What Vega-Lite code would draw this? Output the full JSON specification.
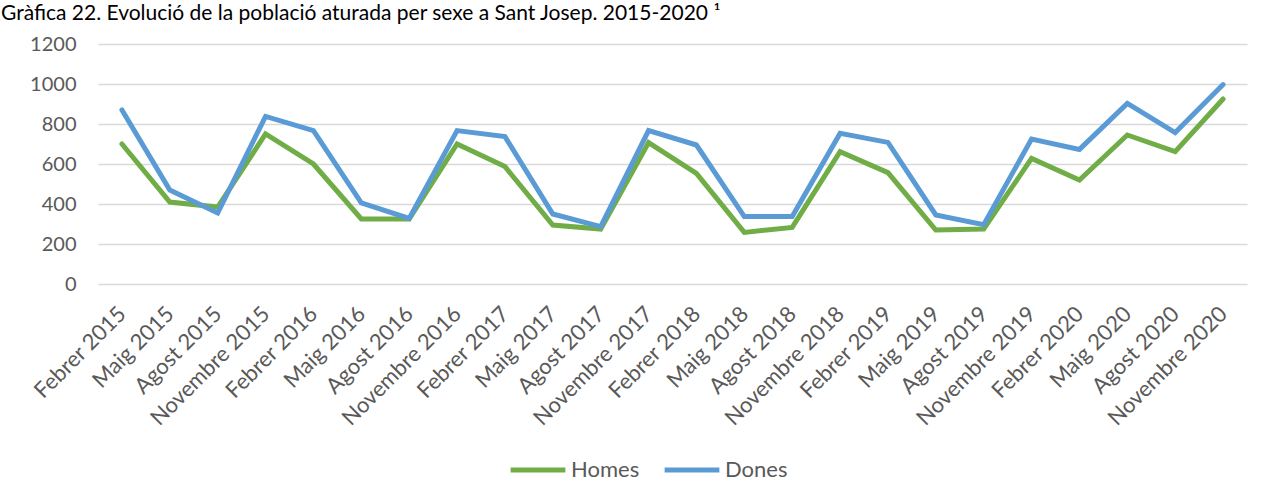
{
  "$schema": "https://vega.github.io/schema/vega-lite/v6.json",
  "autosize": {"type": "none"},
  "padding": {"left": 98, "top": 44, "right": 22, "bottom": 220},
  "width": 1149,
  "height": 240,
  "background": "white",
  "title": {
    "text": "Gràfica 22. Evolució de la població aturada per sexe a Sant Josep. 2015-2020 ¹",
    "anchor": "start",
    "frame": "group",
    "dx": -97,
    "dy": -6,
    "fontSize": 21,
    "font": "Lato",
    "fontWeight": "normal",
    "color": "#000000"
  },
  "data": {
    "values": [
      {"periode": "Febrer 2015", "sexe": "Homes", "aturats": 700},
      {"periode": "Maig 2015", "sexe": "Homes", "aturats": 410},
      {"periode": "Agost 2015", "sexe": "Homes", "aturats": 385},
      {"periode": "Novembre 2015", "sexe": "Homes", "aturats": 750},
      {"periode": "Febrer 2016", "sexe": "Homes", "aturats": 600},
      {"periode": "Maig 2016", "sexe": "Homes", "aturats": 325},
      {"periode": "Agost 2016", "sexe": "Homes", "aturats": 325},
      {"periode": "Novembre 2016", "sexe": "Homes", "aturats": 700},
      {"periode": "Febrer 2017", "sexe": "Homes", "aturats": 587},
      {"periode": "Maig 2017", "sexe": "Homes", "aturats": 295},
      {"periode": "Agost 2017", "sexe": "Homes", "aturats": 275},
      {"periode": "Novembre 2017", "sexe": "Homes", "aturats": 707},
      {"periode": "Febrer 2018", "sexe": "Homes", "aturats": 553},
      {"periode": "Maig 2018", "sexe": "Homes", "aturats": 258},
      {"periode": "Agost 2018", "sexe": "Homes", "aturats": 283},
      {"periode": "Novembre 2018", "sexe": "Homes", "aturats": 662},
      {"periode": "Febrer 2019", "sexe": "Homes", "aturats": 557},
      {"periode": "Maig 2019", "sexe": "Homes", "aturats": 270},
      {"periode": "Agost 2019", "sexe": "Homes", "aturats": 275},
      {"periode": "Novembre 2019", "sexe": "Homes", "aturats": 628},
      {"periode": "Febrer 2020", "sexe": "Homes", "aturats": 520},
      {"periode": "Maig 2020", "sexe": "Homes", "aturats": 745},
      {"periode": "Agost 2020", "sexe": "Homes", "aturats": 662},
      {"periode": "Novembre 2020", "sexe": "Homes", "aturats": 925},
      {"periode": "Febrer 2015", "sexe": "Dones", "aturats": 870},
      {"periode": "Maig 2015", "sexe": "Dones", "aturats": 470},
      {"periode": "Agost 2015", "sexe": "Dones", "aturats": 355},
      {"periode": "Novembre 2015", "sexe": "Dones", "aturats": 838},
      {"periode": "Febrer 2016", "sexe": "Dones", "aturats": 767},
      {"periode": "Maig 2016", "sexe": "Dones", "aturats": 405},
      {"periode": "Agost 2016", "sexe": "Dones", "aturats": 328},
      {"periode": "Novembre 2016", "sexe": "Dones", "aturats": 767},
      {"periode": "Febrer 2017", "sexe": "Dones", "aturats": 737},
      {"periode": "Maig 2017", "sexe": "Dones", "aturats": 350},
      {"periode": "Agost 2017", "sexe": "Dones", "aturats": 287},
      {"periode": "Novembre 2017", "sexe": "Dones", "aturats": 767},
      {"periode": "Febrer 2018", "sexe": "Dones", "aturats": 695},
      {"periode": "Maig 2018", "sexe": "Dones", "aturats": 337},
      {"periode": "Agost 2018", "sexe": "Dones", "aturats": 337},
      {"periode": "Novembre 2018", "sexe": "Dones", "aturats": 753},
      {"periode": "Febrer 2019", "sexe": "Dones", "aturats": 708},
      {"periode": "Maig 2019", "sexe": "Dones", "aturats": 345},
      {"periode": "Agost 2019", "sexe": "Dones", "aturats": 297},
      {"periode": "Novembre 2019", "sexe": "Dones", "aturats": 725},
      {"periode": "Febrer 2020", "sexe": "Dones", "aturats": 673},
      {"periode": "Maig 2020", "sexe": "Dones", "aturats": 903},
      {"periode": "Agost 2020", "sexe": "Dones", "aturats": 757},
      {"periode": "Novembre 2020", "sexe": "Dones", "aturats": 997}
    ]
  },
  "mark": {"type": "line", "strokeWidth": 5, "strokeCap": "round", "strokeJoin": "miter"},
  "encoding": {
    "x": {
      "field": "periode",
      "type": "nominal",
      "sort": null,
      "scale": {"type": "point", "padding": 0.5},
      "axis": {
        "title": null,
        "labelAngle": -45,
        "labelAlign": "right",
        "labelBaseline": "middle",
        "labelFont": "Lato",
        "labelFontSize": 22,
        "labelColor": "#595959",
        "labelPadding": 26,
        "ticks": false,
        "domain": false,
        "grid": false
      }
    },
    "y": {
      "field": "aturats",
      "type": "quantitative",
      "scale": {"domain": [0, 1200], "nice": false},
      "axis": {
        "title": null,
        "format": "d",
        "values": [0, 200, 400, 600, 800, 1000, 1200],
        "labelFont": "Lato",
        "labelFontSize": 20,
        "labelColor": "#595959",
        "labelPadding": 22,
        "ticks": false,
        "domain": false,
        "grid": true,
        "gridColor": "#D9D9D9",
        "gridWidth": 1.5
      }
    },
    "color": {
      "field": "sexe",
      "type": "nominal",
      "sort": ["Homes", "Dones"],
      "scale": {"domain": ["Homes", "Dones"], "range": ["#70AD47", "#5B9BD5"]},
      "legend": {
        "title": null,
        "orient": "none",
        "direction": "horizontal",
        "legendX": 410,
        "legendY": 396,
        "symbolType": "stroke",
        "symbolSize": 3000,
        "symbolStrokeWidth": 5,
        "labelFont": "Lato",
        "labelFontSize": 22,
        "labelColor": "#595959",
        "labelOffset": 3,
        "columnPadding": 14
      }
    }
  },
  "config": {"view": {"stroke": null}}
}
